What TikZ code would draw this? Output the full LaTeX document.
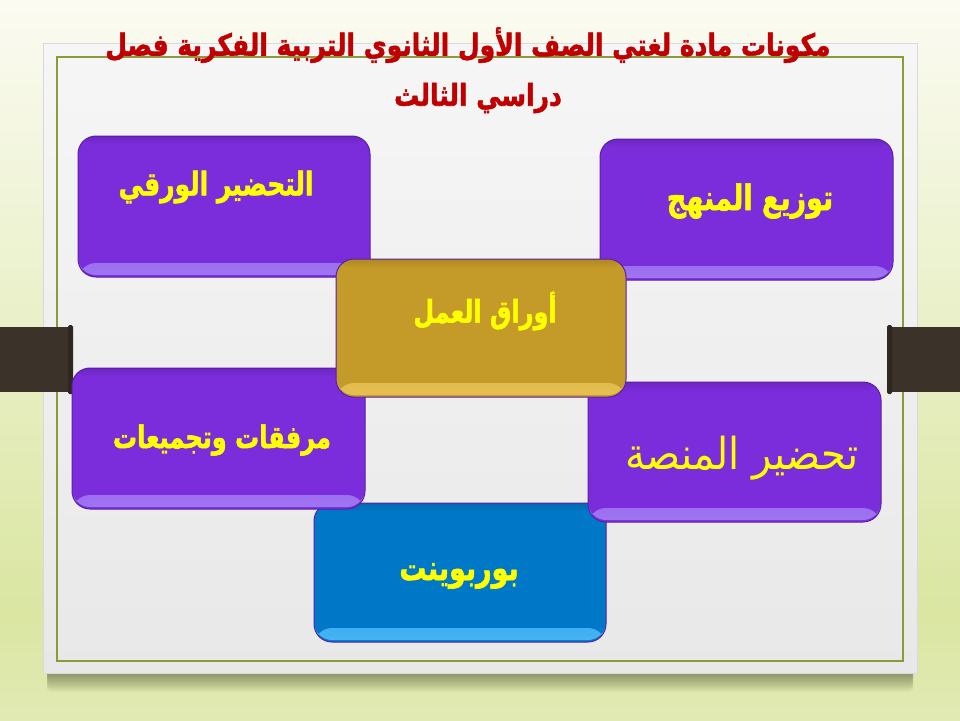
\documentclass[tikz,border=0pt]{standalone}
\usepackage{fontspec}
\TeXXeTstate=1
\newfontfamily\arabicfont[Script=Arabic, BoldFeatures={FakeBold=1.8}]{DejaVu Sans}
\definecolor{bgtop}{HTML}{FBFBF2}
\definecolor{bgmid}{HTML}{DAE6A2}
\definecolor{bgbot}{HTML}{E1EAB4}
\definecolor{cardtop}{HTML}{F6F6F6}
\definecolor{cardbot}{HTML}{E8E8E8}
\definecolor{olive}{HTML}{8C9A3C}
\definecolor{tabc}{HTML}{3B3229}
\definecolor{purp}{HTML}{7B2CDB}
\definecolor{purpdark}{HTML}{5A1FA6}
\definecolor{purplight}{HTML}{9F76F2}
\definecolor{goldc}{HTML}{C49A28}
\definecolor{goldlight}{HTML}{E6BF52}
\definecolor{bluec}{HTML}{0078C8}
\definecolor{bluelight}{HTML}{45B5F5}
\definecolor{titlered}{HTML}{C00000}
\definecolor{txty}{HTML}{FFFF00}
\newcommand{\vtxt}[3][1.3]{\scalebox{1}[#1]{\textcolor{#2}{#3}}}
\tikzset{
  boxbase/.style={rectangle, rounded corners=18pt, line width=1pt, inner sep=0pt},
  pbox/.style={boxbase, fill=purp, draw=purpdark,
    path picture={\shade[top color=purp, bottom color=purplight]
      ([yshift=14pt]path picture bounding box.south west) rectangle ([yshift=2pt]path picture bounding box.south east);
      \shade[top color=purp!88!black, bottom color=purp]
      (path picture bounding box.north west) rectangle ([yshift=-9pt]path picture bounding box.north east);}},
  gbox/.style={boxbase, fill=goldc, draw=purpdark,
    path picture={\shade[top color=goldc, bottom color=goldlight]
      ([yshift=14pt]path picture bounding box.south west) rectangle ([yshift=2pt]path picture bounding box.south east);
      \shade[top color=goldc!88!black, bottom color=goldc]
      (path picture bounding box.north west) rectangle ([yshift=-9pt]path picture bounding box.north east);}},
  bbox/.style={boxbase, fill=bluec, draw=purpdark,
    path picture={\shade[top color=bluec, bottom color=bluelight]
      ([yshift=14pt]path picture bounding box.south west) rectangle ([yshift=2pt]path picture bounding box.south east);
      \shade[top color=bluec!88!black, bottom color=bluec]
      (path picture bounding box.north west) rectangle ([yshift=-9pt]path picture bounding box.north east);}},
  lbl/.style={inner sep=0pt, font=\arabicfont\fontsize{24}{28}\selectfont\bfseries},
  ttl/.style={inner sep=0pt, font=\arabicfont\fontsize{25}{30}\selectfont\bfseries},
}
\begin{document}
\begin{tikzpicture}[x=1pt, y=-1pt]
\useasboundingbox (0,0) rectangle (960,720);
% background
\shade[top color=bgtop, bottom color=bgmid] (0,0) rectangle (960,610);
\shade[top color=bgmid, bottom color=bgbot] (0,610) rectangle (960,720);
% card shadow
\foreach \i in {1,...,8} {
  \fill[black!70!olive, opacity=0.07, rounded corners=3pt] (47,668) rectangle (913,671+2.5*\i);
}
% card
\shade[top color=cardtop, bottom color=cardbot] (43,43) rectangle (917,673);
\draw[white!85!black, line width=0.6pt] (43,43) rectangle (917,673);
% olive frame
\draw[olive, line width=2.5pt] (57,57) rectangle (903,661);
% side tabs
\fill[tabc] (0,327) rectangle (71,392);
\fill[tabc!80!black, rounded corners=1.5pt] (68,325) rectangle (73,394);
\fill[tabc] (889,327) rectangle (960,392);
\fill[tabc!80!black, rounded corners=1.5pt] (887,325) rectangle (892,394);
% title
\node[ttl] (t1) at (468,45) {\vtxt[1.2]{titlered}{\beginR مكونات مادة لغتي الصف الأول الثانوي التربية الفكرية فصل\endR}};
\node[ttl] (t2) at (478,98) {\vtxt[1.2]{titlered}{\beginR دراسي الثالث\endR}};
% boxes
\node[bbox, minimum width=292pt, minimum height=139pt] (b6) at (460,572.5) {};
\node[pbox, minimum width=292pt, minimum height=141pt] (b1) at (224,206.5) {};
\node[pbox, minimum width=293pt, minimum height=141pt] (b2) at (746.5,209.5) {};
\node[pbox, minimum width=293pt, minimum height=141pt] (b4) at (218.5,438.5) {};
\node[pbox, minimum width=293pt, minimum height=140pt] (b5) at (734.5,452) {};
\node[gbox, minimum width=290pt, minimum height=138pt] (b3) at (481,328) {};
% labels
\node[lbl, font=\arabicfont\fontsize{25}{28}\selectfont\bfseries] (l1) at (216,187) {\vtxt{txty}{\beginR التحضير الورقي\endR}};
\node[lbl, font=\arabicfont\fontsize{27}{30}\selectfont\bfseries] (l2) at (750,201) {\vtxt{txty}{\beginR توزيع المنهج\endR}};
\node[lbl] (l3) at (485,311) {\vtxt{txty}{\beginR أوراق العمل\endR}};
\node[lbl] (l4) at (222,440) {\vtxt{txty}{\beginR مرفقات وتجميعات\endR}};
\node[inner sep=0pt, font=\arabicfont\fontsize{40}{44}\selectfont] (l5) at (742,458) {\vtxt[1.1]{txty}{\beginR تحضير  المنصة\endR}};
\node[lbl, font=\arabicfont\fontsize{27}{30}\selectfont\bfseries] (l6) at (459,576) {\vtxt{txty}{\beginR بوربوينت\endR}};
\end{tikzpicture}
\end{document}
